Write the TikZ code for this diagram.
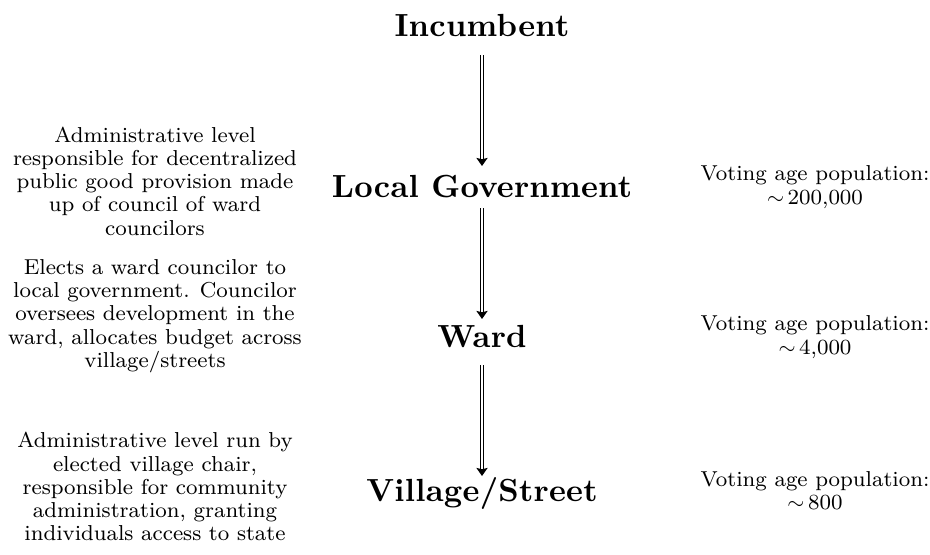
\documentclass[tikz,border=0pt]{standalone}
\usepackage{fontspec}
\newfontfamily\descfont{lmroman8-regular.otf}
\newfontfamily\headfont{lmroman10-bold.otf}[LetterSpace=0.8]
\usetikzlibrary{arrows.meta}
\begin{document}
\begin{tikzpicture}[x=0.5pt,y=-0.5pt,
  lvl/.style={inner sep=0pt, font=\headfont\fontsize{16}{19}\selectfont},
  desc/.style={inner sep=0pt, align=center, font=\descfont\fontsize{10.8}{11.6}\selectfont},
  down/.style={double, line width=0.8pt, double distance=0.8pt, -{Stealth[length=4pt,width=5.5pt,inset=0.6pt]}}]
\useasboundingbox (0,0) rectangle (930,554);
\clip (0,0) rectangle (930,554);
\node[lvl] (inc) at (482,25) {Incumbent};
\node[lvl] (lg) at (482,187) {Local Government};
\node[lvl] (ward) at (482,337) {Ward};
\node[lvl] (vs) at (482,493) {Village/Street};
\coordinate (a1s) at (482,55); \coordinate (a1e) at (482,166);
\coordinate (a2s) at (482,208); \coordinate (a2e) at (482,319);
\coordinate (a3s) at (482,365); \coordinate (a3e) at (482,476);
\draw[down] (a1s) -- (a1e);
\draw[down] (a2s) -- (a2e);
\draw[down] (a3s) -- (a3e);
\node[desc] (d1) at (155,181) {Administrative level\\responsible for decentralized\\public good provision made\\up of council of ward\\councilors};
\node[desc] (d2) at (155,316) {Elects a ward councilor to\\local government. Councilor\\oversees development in the\\ward, allocates budget across\\village/streets};
\node[desc, anchor=north] (d3) at (155,432) {Administrative level run by\\elected village chair,\\responsible for community\\administration, granting\\individuals access to state};
\node[desc] (p1) at (815,187) {Voting age population:\\$\sim$\,200,000};
\node[desc] (p2) at (815,337) {Voting age population:\\$\sim$\,4,000};
\node[desc] (p3) at (815,491) {Voting age population:\\$\sim$\,800};
\end{tikzpicture}
\end{document}
